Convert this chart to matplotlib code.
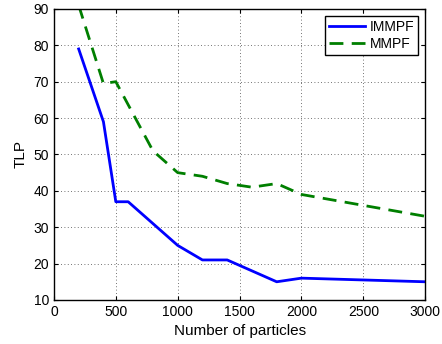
import matplotlib
matplotlib.use("Agg")
import matplotlib.pyplot as plt

plt.rcParams["font.family"] = ["Liberation Sans", "DejaVu Sans"]

immpf_x = [200, 400, 500, 600, 1000, 1200, 1400, 1800, 2000, 3000]
immpf_y = [79, 59, 37, 37, 25, 21, 21, 15, 16, 15]
mmpf_x = [200, 400, 500, 800, 1000, 1200, 1400, 1600, 1800, 2000, 3000]
mmpf_y = [91, 69.5, 70, 51, 45, 44, 42, 41, 42, 39, 33]

fig = plt.figure(figsize=(4.42, 3.44), dpi=100)
ax = fig.add_axes([0.122, 0.128, 0.840, 0.846])
ax.plot(immpf_x, immpf_y, color="#0000ff", lw=2, label="IMMPF")
ax.plot(mmpf_x, mmpf_y, color="#007f00", lw=2, ls=(0, (5, 3)), label="MMPF")
ax.set_xlim(0, 3000)
ax.set_ylim(10, 90)
ax.set_xticks(range(0, 3001, 500))
ax.set_yticks(range(10, 91, 10))
ax.grid(True, color="#444444", ls=(0, (1, 3)), lw=0.6)
ax.tick_params(direction="in", labelsize=10, length=3, top=True, right=True)
ax.set_xlabel("Number of particles", fontsize=11)
ax.set_ylabel("TLP", fontsize=11)
for s in ax.spines.values():
    s.set_linewidth(1)
leg = ax.legend(loc="upper right", fontsize=10, fancybox=False, framealpha=1,
                edgecolor="black", borderaxespad=0.5, handlelength=2.6,
                handletextpad=0.3, borderpad=0.3, labelspacing=0.2)
leg.get_frame().set_linewidth(1)
fig.savefig("out.png", dpi=100)
